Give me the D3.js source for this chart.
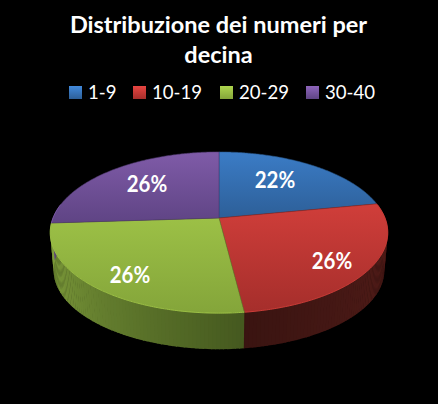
<!DOCTYPE html>
<html>
<head>
<meta charset="utf-8">
<script src="https://cdn.jsdelivr.net/npm/d3@7"></script>
<style>
html, body { margin: 0; padding: 0; background: #000; }
svg { display: block; }
text { font-family: Lato, "Open Sans", sans-serif; fill: #fff; }
</style>
</head>
<body>
<svg id="chart"></svg>
<script>
const titleLines = ["Distribuzione dei numeri per", "decina"]
const categories = ["1-9", "10-19", "20-29", "30-40"]
const percents = [22, 26, 26, 26]
const topLight = ["#3b7cc6", "#d03e3a", "#9cc046", "#7f5ba8"]
const topDark = ["#2d5f98", "#a52e2b", "#84a53a", "#5f4484"]
const wallLight = ["#2a5080", "#5a1f1b", "#86a63f", "#5f4484"]
const wallDark = ["#1e3a60", "#3a1411", "#45591f", "#3f2d58"]
const legendX = [69, 133, 220, 306]

const width = 438, height = 404
const svg = d3.select("#chart").attr("width", width).attr("height", height)
const defs = svg.append("defs")

// tilted disc: unit circle goes through a perspective divide
const tilt = 0.18
const sx = d3.scaleLinear().domain([-1, 1]).range([219 - 166, 219 + 166])
const sy = d3.scaleLinear().domain([-1, 1]).range([218 + 78, 218 - 78])
const depth = 38
const shrink = 0.98

function project(a, drop) {
    const x = Math.sin(a), y = Math.cos(a)
    const w = 1 + tilt * y
    const k = drop ? shrink : 1
    return [sx(k * x / w), sy(k * y / w) + (drop ? depth : 0)]
}

const pie = d3.pie().sort(null).value(d => d)
const arcs = pie(percents)
const line = d3.line()

// wall, only the part facing us
const wallStart = Math.PI / 2 - 0.18, wallEnd = Math.PI * 1.5 + 0.18
const wall = svg.append("g")
arcs.forEach((d, i) => {
    const a0 = Math.max(d.startAngle, wallStart), a1 = Math.min(d.endAngle, wallEnd)
    if (a1 <= a0) return
    const shade = d3.scaleLinear()
        .domain([a0, a1])
        .range(i === 2 ? [wallDark[i], wallLight[i]] : [wallLight[i], wallDark[i]])
    const ticks = d3.range(a0, a1, 0.02).concat([a1])
    d3.pairs(ticks).forEach(([p, q]) => {
        const pts = [project(p), project(q + 0.005), project(q + 0.005, true), project(p, true)]
        wall.append("path")
            .attr("d", line(pts) + "Z")
            .attr("fill", shade((p + q) / 2))
    })
})

// top face
const topFace = svg.append("g")
const center = [sx(0), sy(0)]
arcs.forEach((d, i) => {
    const pts = d3.range(d.startAngle, d.endAngle, 0.01).concat([d.endAngle]).map(a => project(a))
    const ys = pts.map(p => p[1]).concat([center[1]])
    const grad = defs.append("linearGradient")
        .attr("id", "top" + i)
        .attr("gradientUnits", "userSpaceOnUse")
        .attr("x1", 0).attr("x2", 0)
        .attr("y1", d3.min(ys)).attr("y2", d3.max(ys))
    grad.append("stop").attr("offset", 0).attr("stop-color", topLight[i])
    grad.append("stop").attr("offset", 1).attr("stop-color", topDark[i])
    topFace.append("path")
        .attr("d", line([center].concat(pts)) + "Z")
        .attr("fill", `url(#top${i})`)
        .attr("stroke", d3.color(topDark[i]).darker(0.6))
        .attr("stroke-width", 0.7)
        .attr("stroke-opacity", 0.8)
    // pale rim on the front edge
    const rim = d3.range(d.startAngle, d.endAngle, 0.01).filter(a => a > wallStart && a < wallEnd).map(a => project(a))
    if (rim.length > 1) {
        topFace.append("path")
            .attr("d", line(rim))
            .attr("fill", "none")
            .attr("stroke", d3.color(topLight[i]).brighter(0.4))
            .attr("stroke-width", 1)
            .attr("stroke-opacity", 0.7)
    }
})

// percent labels, squeezed a bit since Lato runs wider than the original face
const labelPos = [[275, 180], [332, 261], [130, 275], [147, 184]]
svg.append("g").selectAll("text")
    .data(percents)
    .enter().append("text")
    .attr("transform", (d, i) => `translate(${labelPos[i][0]},${labelPos[i][1]}) scale(0.89,1)`)
    .attr("dy", "0.36em")
    .attr("text-anchor", "middle")
    .attr("font-size", 23)
    .attr("font-weight", 700)
    .text(d => d + "%")

// title
svg.append("g").selectAll("text")
    .data(titleLines)
    .enter().append("text")
    .attr("x", 218.5)
    .attr("y", (d, i) => 32.5 + i * 30)
    .attr("text-anchor", "middle")
    .attr("font-size", 23.5)
    .attr("font-weight", 700)
    .text(d => d)

// legend
const legend = svg.append("g").selectAll("g")
    .data(categories)
    .enter().append("g")
    .attr("transform", (d, i) => `translate(${legendX[i]},86)`)
categories.forEach((c, i) => {
    const g = defs.append("linearGradient").attr("id", "key" + i)
        .attr("x1", 0).attr("x2", 0).attr("y1", 0).attr("y2", 1)
    g.append("stop").attr("offset", 0).attr("stop-color", d3.color(topLight[i]).brighter(0.3))
    g.append("stop").attr("offset", 1).attr("stop-color", topDark[i])
})
legend.append("rect")
    .attr("width", 13).attr("height", 13)
    .attr("fill", (d, i) => `url(#key${i})`)
legend.append("text")
    .attr("transform", "translate(19,13) scale(0.93,1)")
    .attr("font-size", 20)
    .text(d => d)
</script>
</body>
</html>
